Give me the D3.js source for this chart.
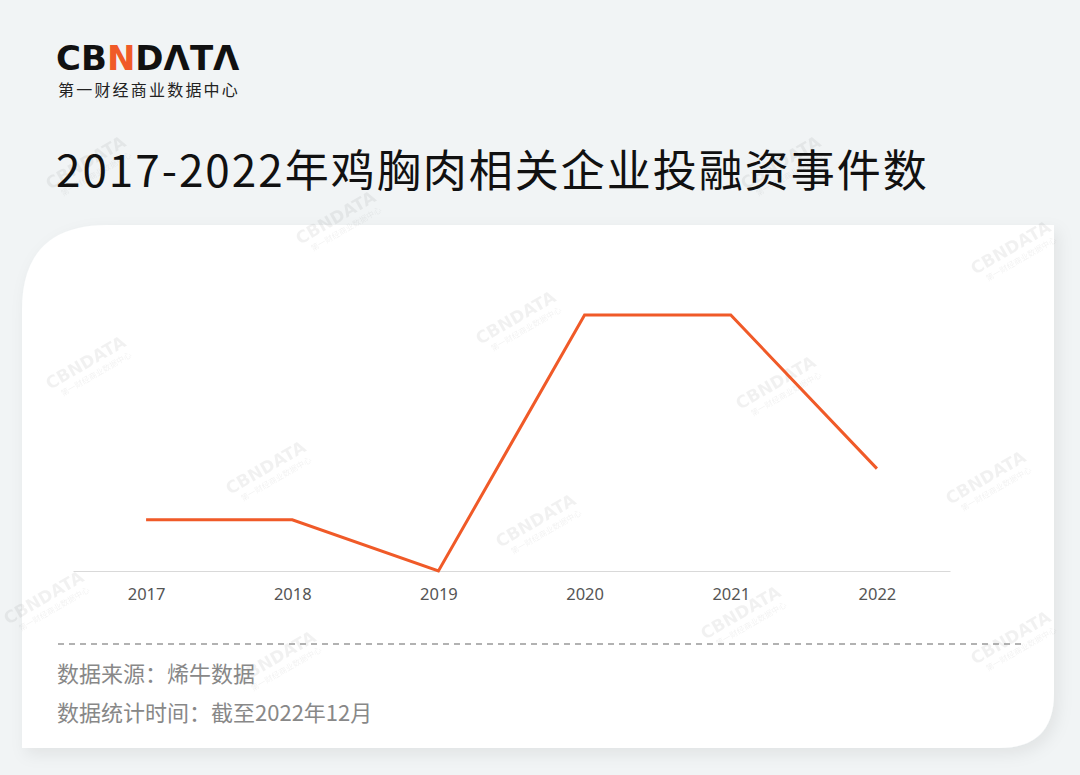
<!DOCTYPE html>
<html>
<head>
<meta charset="utf-8">
<script src="https://cdn.jsdelivr.net/npm/d3@7"></script>
<style>
  body { margin: 0; background: #f1f4f5; }
  text { font-family: "Noto Sans CJK SC", "Noto Sans", sans-serif; }
</style>
</head>
<body>
<div id="chart"></div>
<script>
const years = ["2017", "2018", "2019", "2020", "2021", "2022"]
const counts = [1, 1, 0, 5, 5, 2]
const notes = ["数据来源：烯牛数据", "数据统计时间：截至2022年12月"]
const marks = [[50, 190], [300, 245], [745, 190], [975, 275], [480, 345], [50, 390], [740, 410], [230, 495], [950, 505], [500, 548], [8, 625], [705, 640], [240, 685], [975, 665]]

const W = 1080, H = 775
const svg = d3.select("#chart").append("svg")
    .attr("width", W)
    .attr("height", H)

const defs = svg.append("defs")
const f = defs.append("filter").attr("id", "sh").attr("x", "-5%").attr("y", "-5%").attr("width", "115%").attr("height", "120%")
f.append("feDropShadow").attr("dx", 4).attr("dy", 6).attr("stdDeviation", 8).attr("flood-color", "#000").attr("flood-opacity", 0.07)

svg.append("rect").attr("width", W).attr("height", H).attr("fill", "#f1f4f5")

// logo
const logo = svg.append("text")
    .attr("x", 56).attr("y", 70)
    .attr("font-size", 34).attr("font-weight", 700)
    .style("font-family", "'DejaVu Sans', sans-serif")
    .attr("fill", "#111")
logo.append("tspan").text("CB")
logo.append("tspan").attr("fill", "#f05a28").text("N")
logo.append("tspan").text("DΛTΛ")

svg.append("text")
    .attr("x", 58).attr("y", 96)
    .attr("font-size", 16).attr("fill", "#222")
    .attr("letter-spacing", 2.2)
    .text("第一财经商业数据中心")

svg.append("text")
    .attr("x", 56).attr("y", 187)
    .attr("font-size", 44).attr("fill", "#111")
    .attr("letter-spacing", 2)
    .text("2017-2022年鸡胸肉相关企业投融资事件数")

// card: big round top-left, sharp top-right, round bottom-right
const x0 = 22, y0 = 225, x1 = 1054, y1 = 748, rTL = 85, rBR = 55
svg.append("path")
    .attr("d", `M${x0},${y0 + rTL} Q${x0},${y0} ${x0 + rTL},${y0} L${x1},${y0} L${x1},${y1 - rBR} Q${x1},${y1} ${x1 - rBR},${y1} L${x0},${y1} Z`)
    .attr("fill", "#fff")
    .attr("filter", "url(#sh)")

// watermarks
const wm = svg.append("g").attr("pointer-events", "none")
marks.forEach(([mx, my]) => {
  const g = wm.append("g").attr("transform", `translate(${mx},${my}) rotate(-30)`)
  g.append("text").attr("font-size", 17).attr("font-weight", 700)
    .style("font-family", "'DejaVu Sans', sans-serif")
    .attr("fill", "#000").attr("opacity", 0.05).text("CBNDATA")
  g.append("text").attr("y", 12).attr("x", 8).attr("font-size", 8)
    .attr("fill", "#000").attr("opacity", 0.05).text("第一财经商业数据中心")
})

const margin = { left: 73, right: 130, top: 315, bottom: 204 }
const xScale = d3.scalePoint()
    .domain(years)
    .range([margin.left, W - margin.right])
    .padding(0.5)

const yScale = d3.scaleLinear()
    .domain([0, 5])
    .range([H - margin.bottom, margin.top])

const xAxis = svg.append("g")
    .attr("transform", "translate(0," + (H - margin.bottom) + ")")
    .call(d3.axisBottom(xScale).tickSize(0).tickPadding(17))
xAxis.select(".domain").attr("stroke", "#d9d9d9").attr("stroke-width", 1.2)
xAxis.selectAll("text")
    .attr("font-size", 16.5).attr("fill", "#555")
    .style("font-family", "'Noto Sans', sans-serif")

const line = d3.line()
    .x((d, i) => xScale(years[i]))
    .y(d => yScale(d))

svg.append("path")
    .datum(counts)
    .attr("d", line)
    .attr("fill", "none")
    .attr("stroke", "#f05a28")
    .attr("stroke-width", 3)
    .attr("stroke-linejoin", "miter")

svg.append("line")
    .attr("x1", 58).attr("x2", 1022)
    .attr("y1", 644).attr("y2", 644)
    .attr("stroke", "#999")
    .attr("stroke-width", 1.3)
    .style("stroke-dasharray", "6,5")

svg.selectAll(".note")
    .data(notes)
    .join("text")
    .attr("class", "note")
    .attr("x", 57)
    .attr("y", (d, i) => 682 + i * 39)
    .attr("font-size", 22)
    .attr("fill", "#888")
    .text(d => d)
</script>
</body>
</html>
